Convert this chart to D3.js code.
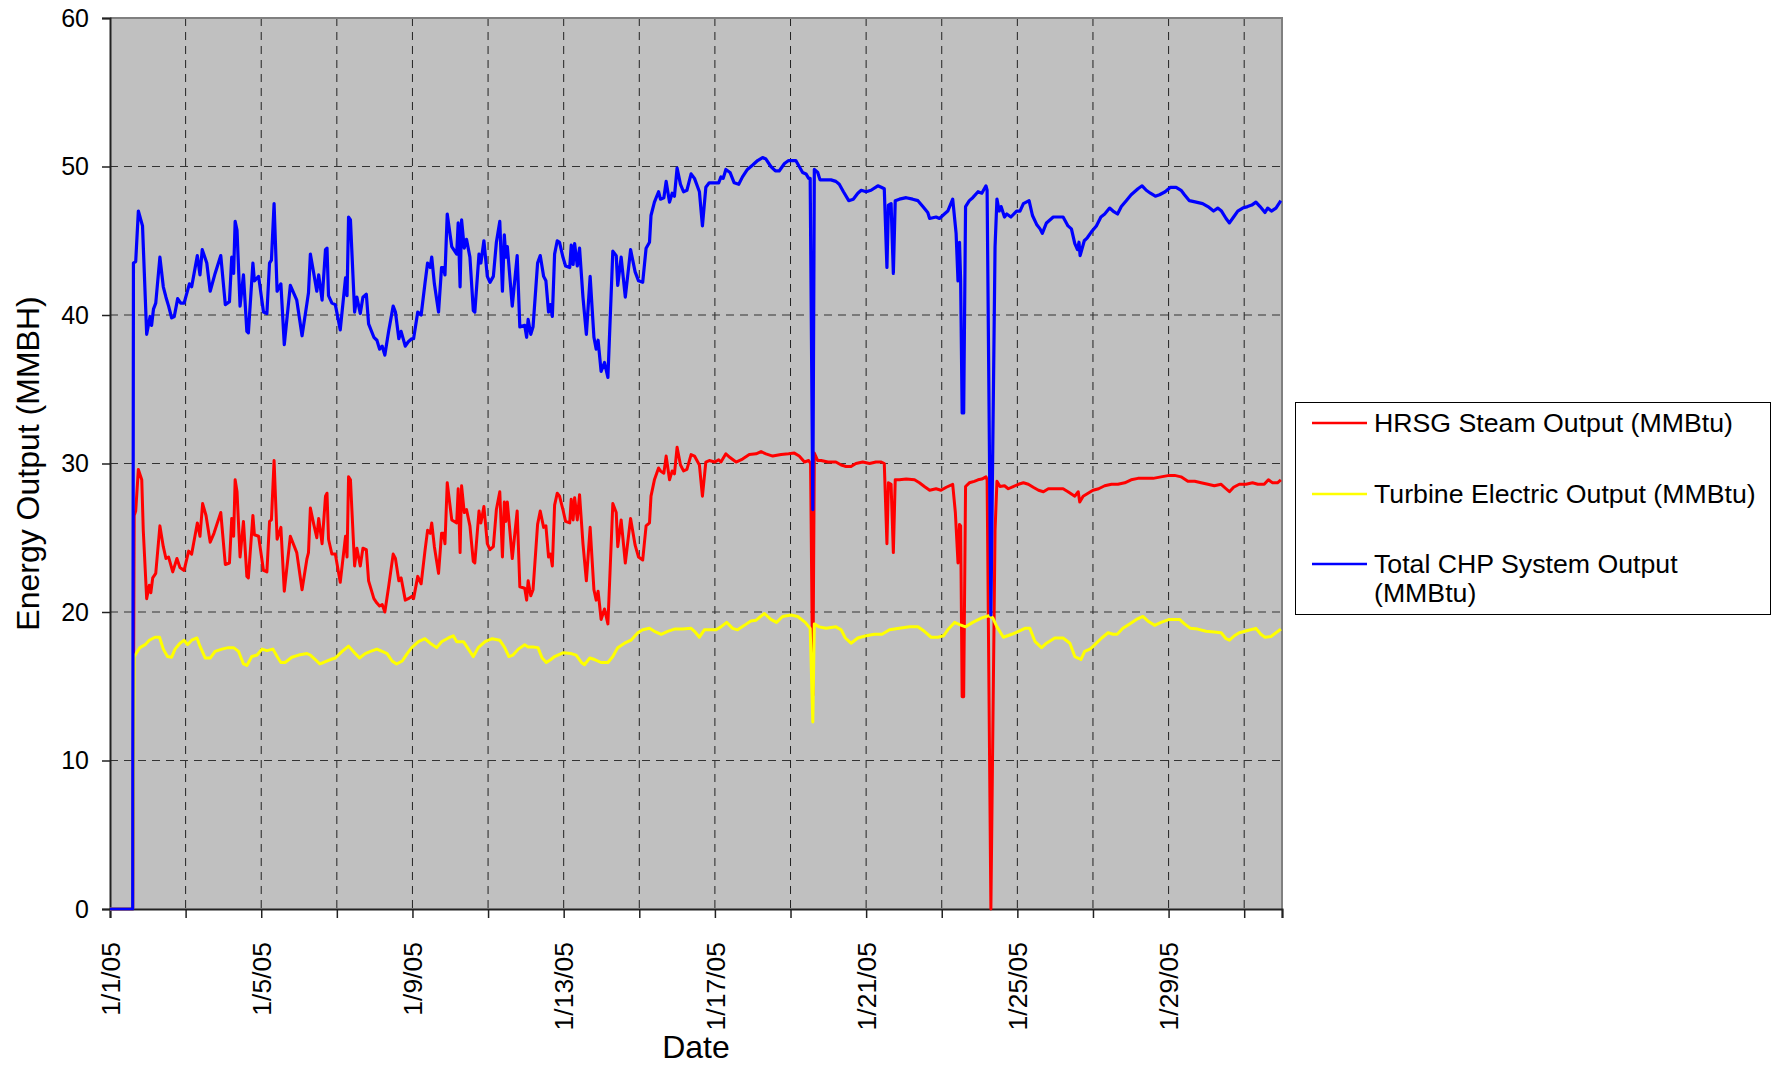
<!DOCTYPE html>
<html>
<head>
<meta charset="utf-8">
<script src="https://cdn.jsdelivr.net/npm/d3@7"></script>
<style>
  body { margin: 0; background: #ffffff; }
  svg { display: block; font-family: "Liberation Sans", Arial, sans-serif; }
</style>
</head>
<body>
<div id="chart-container"></div>
<script>
// Series data: [days since 1/1/05 00:00, value]
const hrsgSteam = [
  [0,0],[0.6,0],[0.64,26.5],[0.68,26.8],[0.75,29.6],[0.84,28.9],[0.88,25.5],[0.97,20.9],[1.04,21.8],[1.08,21.3],
  [1.13,22.3],[1.21,22.6],[1.32,25.8],[1.41,24.4],[1.48,23.6],[1.55,23.7],[1.66,22.7],[1.77,23.6],[1.85,23.0],[1.96,22.8],
  [2.08,24.1],[2.16,23.9],[2.31,26.0],[2.38,25.1],[2.45,27.3],[2.54,26.5],[2.65,24.7],[2.75,25.3],[2.93,26.7],[3.05,23.2],
  [3.16,23.3],[3.22,26.3],[3.27,25.1],[3.31,28.9],[3.36,28.1],[3.44,23.7],[3.53,26.1],[3.62,22.4],[3.66,22.3],[3.78,26.5],
  [3.82,25.2],[3.93,25.1],[4.06,22.8],[4.15,22.7],[4.22,26.1],[4.27,26.2],[4.34,30.2],[4.42,24.9],[4.52,25.7],[4.61,21.4],
  [4.77,25.1],[4.94,24.0],[5.08,21.5],[5.21,23.6],[5.25,24.0],[5.30,27.0],[5.39,25.9],[5.47,25.0],[5.52,26.3],[5.61,24.6],
  [5.70,27.8],[5.74,28.0],[5.78,24.9],[5.87,23.9],[5.96,23.9],[6.09,22.0],[6.23,25.1],[6.27,23.7],[6.31,29.1],[6.36,28.9],
  [6.47,23.1],[6.53,24.3],[6.62,23.1],[6.69,24.3],[6.78,24.2],[6.84,22.1],[6.98,20.9],[7.06,20.6],[7.13,20.4],[7.20,20.5],
  [7.27,20.0],[7.37,21.7],[7.49,23.9],[7.55,23.6],[7.64,22.1],[7.70,22.3],[7.81,20.8],[7.89,20.9],[7.98,21.05],[8.03,20.9],
  [8.14,22.4],[8.23,21.9],[8.33,24.1],[8.40,25.5],[8.47,25.3],[8.51,26.0],[8.58,24.4],[8.69,22.6],[8.77,25.3],[8.82,25.3],
  [8.86,24.6],[8.92,28.7],[9.04,26.2],[9.17,26.0],[9.21,28.3],[9.26,24.0],[9.30,28.5],[9.37,26.7],[9.43,26.9],[9.52,25.8],
  [9.61,23.4],[9.65,23.3],[9.76,26.8],[9.81,26.0],[9.89,27.1],[9.98,24.6],[10.05,24.2],[10.14,24.4],[10.22,26.9],[10.31,28.1],
  [10.38,23.7],[10.43,27.4],[10.47,26.1],[10.51,27.4],[10.64,23.6],[10.77,26.8],[10.84,21.7],[10.97,21.6],[11.02,20.8],[11.06,22.1],
  [11.13,21.1],[11.19,21.5],[11.31,25.9],[11.38,26.8],[11.47,25.7],[11.53,25.8],[11.60,23.7],[11.65,23.9],[11.70,23.1],[11.76,27.2],
  [11.83,28.0],[11.89,27.8],[11.98,26.9],[12.05,26.1],[12.16,26.0],[12.20,27.6],[12.25,26.2],[12.29,27.7],[12.36,26.2],[12.42,27.9],
  [12.51,24.6],[12.60,22.1],[12.70,25.7],[12.80,21.5],[12.86,20.8],[12.91,21.4],[12.99,19.5],[13.08,20.2],[13.17,19.2],[13.30,27.3],
  [13.39,26.7],[13.43,24.4],[13.52,26.2],[13.63,23.3],[13.77,26.3],[13.89,24.5],[13.98,23.7],[14.09,23.5],[14.18,25.8],[14.27,26.0],
  [14.31,27.8],[14.40,28.9],[14.51,29.7],[14.56,29.5],[14.65,29.35],[14.71,30.5],[14.80,28.9],[14.87,29.5],[14.93,29.3],[15.00,31.1],
  [15.09,29.9],[15.17,29.5],[15.26,29.6],[15.37,30.6],[15.46,30.5],[15.59,29.9],[15.67,27.8],[15.76,30.1],[15.85,30.2],[16.0,30.1],
  [16.10,30.25],[16.16,30.1],[16.29,30.65],[16.40,30.4],[16.56,30.1],[16.73,30.3],[16.91,30.6],[17.09,30.65],[17.22,30.8],[17.35,30.65],
  [17.53,30.5],[17.75,30.6],[17.95,30.65],[18.10,30.7],[18.23,30.5],[18.37,30.1],[18.48,30.2],[18.53,30.0],[18.59,14.4],[18.63,30.7],
  [18.72,30.2],[18.81,30.2],[18.99,30.1],[19.20,30.1],[19.34,29.9],[19.47,29.8],[19.60,29.8],[19.73,30.0],[19.91,30.1],[20.09,30.0],
  [20.26,30.1],[20.40,30.1],[20.48,30.0],[20.55,24.6],[20.59,28.7],[20.66,28.6],[20.72,24.0],[20.77,28.9],[20.88,28.9],[21.06,28.95],
  [21.28,28.9],[21.41,28.7],[21.54,28.45],[21.68,28.2],[21.85,28.3],[21.98,28.2],[22.12,28.4],[22.29,28.6],[22.36,26.7],[22.43,23.3],
  [22.47,25.9],[22.50,25.8],[22.54,14.3],[22.58,14.3],[22.63,28.45],[22.73,28.7],[22.86,28.8],[22.96,28.9],[23.06,28.95],[23.17,29.1],
  [23.20,28.9],[23.30,0],[23.41,25.5],[23.46,28.8],[23.54,28.45],[23.66,28.5],[23.76,28.3],[23.89,28.45],[24.03,28.6],[24.16,28.7],
  [24.29,28.6],[24.42,28.4],[24.56,28.2],[24.69,28.1],[24.82,28.3],[24.99,28.3],[25.21,28.3],[25.34,28.1],[25.52,27.8],[25.61,28.1],
  [25.65,27.4],[25.74,27.8],[25.87,28.0],[26.0,28.2],[26.15,28.3],[26.31,28.5],[26.49,28.6],[26.66,28.6],[26.84,28.7],[27.01,28.9],
  [27.19,29.0],[27.37,29.0],[27.59,29.0],[27.80,29.1],[28.02,29.2],[28.16,29.2],[28.33,29.1],[28.51,28.8],[28.69,28.8],[28.86,28.7],
  [29.04,28.6],[29.21,28.5],[29.39,28.6],[29.52,28.3],[29.61,28.1],[29.72,28.4],[29.87,28.6],[30.05,28.6],[30.22,28.7],[30.36,28.6],
  [30.53,28.6],[30.64,28.9],[30.75,28.7],[30.88,28.7],[30.97,28.9]
];

const turbineElectric = [
  [0,0],[0.6,0],[0.64,17.0],[0.79,17.6],[0.93,17.8],[1.04,18.1],[1.19,18.3],[1.31,18.3],[1.41,17.5],[1.52,17.0],
  [1.63,16.95],[1.72,17.5],[1.85,17.9],[1.96,18.1],[2.05,17.8],[2.16,18.1],[2.30,18.25],[2.38,17.7],[2.52,16.9],[2.65,16.9],
  [2.78,17.35],[2.96,17.5],[3.13,17.6],[3.27,17.6],[3.40,17.35],[3.53,16.5],[3.62,16.4],[3.75,17.0],[3.89,17.1],[4.02,17.5],
  [4.15,17.4],[4.31,17.5],[4.42,17.0],[4.52,16.6],[4.63,16.6],[4.81,16.95],[4.99,17.1],[5.21,17.2],[5.30,17.1],[5.43,16.8],
  [5.55,16.5],[5.65,16.6],[5.83,16.8],[5.96,16.9],[6.14,17.35],[6.31,17.7],[6.45,17.3],[6.60,16.9],[6.75,17.2],[6.89,17.35],
  [7.06,17.5],[7.20,17.35],[7.33,17.2],[7.46,16.7],[7.58,16.5],[7.73,16.7],[7.86,17.2],[7.98,17.6],[8.16,18.0],[8.33,18.2],
  [8.47,17.9],[8.64,17.6],[8.77,18.0],[8.95,18.25],[9.08,18.4],[9.17,18.0],[9.35,18.0],[9.48,17.5],[9.61,17.0],[9.74,17.6],
  [9.92,18.0],[10.11,18.2],[10.31,18.1],[10.44,17.6],[10.55,17.0],[10.66,17.1],[10.80,17.5],[10.97,17.8],[11.06,17.65],[11.19,17.65],
  [11.32,17.6],[11.43,16.9],[11.54,16.6],[11.66,16.8],[11.76,17.0],[11.98,17.25],[12.20,17.2],[12.33,17.1],[12.47,16.6],[12.55,16.45],
  [12.69,16.9],[12.82,16.8],[12.99,16.6],[13.17,16.6],[13.30,17.0],[13.43,17.6],[13.61,17.9],[13.78,18.1],[13.96,18.6],[14.09,18.8],
  [14.27,18.9],[14.40,18.7],[14.58,18.5],[14.75,18.7],[14.93,18.85],[15.15,18.85],[15.37,18.9],[15.46,18.7],[15.59,18.3],[15.72,18.8],
  [15.89,18.8],[16.03,18.8],[16.16,19.0],[16.31,19.3],[16.47,18.9],[16.60,18.8],[16.78,19.1],[16.95,19.4],[17.09,19.45],[17.31,19.9],
  [17.48,19.5],[17.63,19.3],[17.79,19.7],[18.01,19.8],[18.19,19.7],[18.39,19.3],[18.52,18.9],[18.59,12.6],[18.63,19.2],[18.76,19.0],
  [18.94,18.9],[19.20,19.0],[19.34,18.8],[19.45,18.25],[19.60,17.9],[19.78,18.25],[20.0,18.4],[20.22,18.5],[20.42,18.5],[20.62,18.8],
  [20.88,18.9],[21.15,19.0],[21.37,19.0],[21.54,18.7],[21.72,18.3],[21.90,18.3],[22.05,18.4],[22.16,18.8],[22.34,19.3],[22.47,19.15],
  [22.63,19.0],[22.82,19.3],[22.98,19.5],[23.06,19.6],[23.24,19.75],[23.35,19.6],[23.46,19.0],[23.63,18.3],[23.85,18.5],[24.03,18.7],
  [24.20,18.9],[24.33,18.9],[24.47,18.0],[24.64,17.6],[24.77,17.9],[24.99,18.25],[25.21,18.25],[25.39,17.9],[25.52,17.0],[25.68,16.8],
  [25.78,17.35],[25.92,17.5],[26.05,17.8],[26.23,18.25],[26.40,18.6],[26.53,18.5],[26.64,18.5],[26.79,18.9],[26.97,19.2],[27.15,19.5],
  [27.32,19.7],[27.45,19.4],[27.63,19.1],[27.80,19.3],[28.02,19.5],[28.29,19.5],[28.42,19.2],[28.58,18.9],[28.77,18.85],[28.99,18.7],
  [29.21,18.65],[29.39,18.6],[29.52,18.2],[29.61,18.1],[29.74,18.4],[29.87,18.6],[30.09,18.75],[30.31,18.9],[30.44,18.5],[30.55,18.3],
  [30.71,18.35],[30.84,18.6],[30.97,18.85]
];

const totalChp = [
  [0,0],[0.6,0],[0.62,43.5],[0.68,43.6],[0.75,47.0],[0.86,46.0],[0.97,38.7],[1.06,39.9],[1.10,39.3],[1.15,40.4],
  [1.21,40.8],[1.32,43.9],[1.41,41.9],[1.48,41.2],[1.55,40.6],[1.63,39.8],[1.70,39.9],[1.79,41.1],[1.87,40.8],[1.96,40.8],
  [2.10,42.1],[2.16,41.9],[2.31,44.0],[2.38,42.7],[2.44,44.4],[2.56,43.5],[2.65,41.6],[2.78,42.8],[2.93,44.0],[3.05,40.7],
  [3.16,40.9],[3.22,43.9],[3.27,42.8],[3.31,46.3],[3.36,45.7],[3.44,40.6],[3.53,42.7],[3.62,38.9],[3.66,38.8],[3.78,43.5],
  [3.82,42.3],[3.93,42.6],[4.06,40.2],[4.15,40.1],[4.22,43.5],[4.27,43.7],[4.34,47.5],[4.42,41.6],[4.52,42.1],[4.61,38.0],
  [4.77,42.0],[4.94,41.0],[5.08,38.6],[5.21,40.8],[5.25,41.5],[5.30,44.1],[5.39,42.8],[5.47,41.6],[5.52,42.7],[5.61,41.0],
  [5.70,44.4],[5.74,44.5],[5.78,41.3],[5.87,40.8],[5.96,40.7],[6.09,39.0],[6.23,42.5],[6.27,41.3],[6.31,46.6],[6.36,46.4],
  [6.47,40.2],[6.53,41.2],[6.62,40.1],[6.69,41.2],[6.78,41.4],[6.84,39.4],[6.98,38.5],[7.06,38.3],[7.13,37.7],[7.20,37.9],
  [7.27,37.3],[7.37,38.9],[7.49,40.6],[7.55,40.2],[7.64,38.4],[7.70,38.9],[7.81,37.9],[7.89,38.2],[7.98,38.4],[8.03,38.4],
  [8.14,40.2],[8.23,40.0],[8.33,42.1],[8.40,43.5],[8.47,43.2],[8.51,43.9],[8.58,42.1],[8.69,40.2],[8.77,43.2],[8.82,43.2],
  [8.86,42.7],[8.92,46.8],[9.04,44.6],[9.17,44.1],[9.21,46.2],[9.26,41.9],[9.30,46.4],[9.37,44.5],[9.43,45.1],[9.52,43.9],
  [9.61,40.3],[9.65,40.2],[9.76,44.1],[9.81,43.5],[9.89,45.0],[9.98,42.6],[10.05,42.2],[10.14,42.6],[10.22,44.9],[10.31,46.3],
  [10.38,41.6],[10.43,45.4],[10.47,43.9],[10.51,44.6],[10.64,40.6],[10.77,44.0],[10.84,39.2],[10.97,39.3],[11.02,38.5],[11.06,39.7],
  [11.13,38.7],[11.19,39.2],[11.31,43.5],[11.38,44.0],[11.47,42.6],[11.53,42.3],[11.60,40.2],[11.65,40.7],[11.70,39.9],[11.76,44.1],
  [11.83,45.0],[11.89,44.9],[11.98,43.9],[12.05,43.3],[12.16,43.2],[12.20,44.7],[12.25,43.4],[12.29,44.8],[12.36,43.3],[12.42,44.5],
  [12.51,41.2],[12.60,38.7],[12.70,42.6],[12.80,38.5],[12.86,37.7],[12.91,38.3],[12.99,36.2],[13.08,36.8],[13.17,35.8],[13.30,44.3],
  [13.39,44.0],[13.43,42.0],[13.52,43.9],[13.63,41.2],[13.77,44.4],[13.89,42.9],[13.98,42.3],[14.09,42.2],[14.18,44.5],[14.27,44.9],
  [14.31,46.7],[14.40,47.6],[14.51,48.3],[14.56,47.8],[14.65,47.9],[14.71,49.0],[14.80,47.6],[14.87,48.2],[14.93,48.0],[15.00,49.9],
  [15.09,48.8],[15.17,48.3],[15.26,48.4],[15.37,49.5],[15.46,49.2],[15.59,48.3],[15.67,46.0],[15.76,48.6],[15.85,48.9],[16.0,48.9],
  [16.10,48.9],[16.16,49.3],[16.22,49.2],[16.29,49.8],[16.40,49.6],[16.51,48.9],[16.63,48.8],[16.73,49.3],[16.86,49.8],[17.0,50.1],
  [17.13,50.4],[17.26,50.6],[17.35,50.5],[17.48,50.0],[17.60,49.7],[17.70,49.7],[17.84,50.2],[17.95,50.4],[18.01,50.4],[18.14,50.4],
  [18.23,50.0],[18.32,49.6],[18.41,49.5],[18.48,49.2],[18.52,49.2],[18.59,26.9],[18.63,49.8],[18.72,49.6],[18.78,49.1],[18.94,49.1],
  [19.07,49.1],[19.20,49.0],[19.29,48.8],[19.40,48.3],[19.54,47.7],[19.66,47.8],[19.78,48.2],[19.87,48.4],[20.0,48.3],[20.13,48.4],
  [20.31,48.7],[20.40,48.6],[20.48,48.5],[20.55,43.2],[20.59,47.4],[20.66,47.5],[20.72,42.8],[20.77,47.7],[20.88,47.8],[21.06,47.9],
  [21.23,47.8],[21.37,47.7],[21.50,47.3],[21.63,46.9],[21.68,46.5],[21.85,46.6],[21.94,46.5],[22.07,46.8],[22.16,47.0],[22.29,47.8],
  [22.38,45.5],[22.43,42.3],[22.47,44.9],[22.50,42.3],[22.54,33.4],[22.58,33.4],[22.63,47.3],[22.73,47.7],[22.82,47.9],[22.96,48.3],
  [23.06,48.2],[23.17,48.7],[23.20,48.4],[23.30,19.8],[23.41,44.6],[23.46,47.8],[23.52,47.0],[23.57,47.3],[23.66,46.6],[23.72,46.8],
  [23.83,46.6],[23.98,47.0],[24.07,47.0],[24.16,47.5],[24.31,47.7],[24.40,46.7],[24.51,46.1],[24.60,45.8],[24.66,45.5],[24.77,46.2],
  [24.95,46.6],[25.21,46.6],[25.34,46.0],[25.43,45.8],[25.52,44.8],[25.59,44.4],[25.63,44.9],[25.66,44.0],[25.77,45.0],[25.85,45.2],
  [25.96,45.6],[26.09,46.0],[26.21,46.6],[26.31,46.8],[26.44,47.2],[26.53,47.0],[26.65,46.8],[26.75,47.3],[26.88,47.7],[27.01,48.1],
  [27.19,48.5],[27.30,48.7],[27.41,48.4],[27.52,48.2],[27.65,48.0],[27.76,48.1],[27.91,48.3],[28.05,48.6],[28.20,48.6],[28.33,48.4],
  [28.42,48.1],[28.55,47.7],[28.73,47.6],[28.90,47.5],[29.04,47.3],[29.19,47.0],[29.30,47.2],[29.40,47.0],[29.52,46.5],[29.61,46.2],
  [29.72,46.6],[29.83,47.0],[29.96,47.2],[30.09,47.3],[30.20,47.4],[30.31,47.6],[30.42,47.3],[30.55,46.9],[30.62,47.2],[30.72,47.0],
  [30.84,47.2],[30.97,47.7]
];

const seriesNames = [
  "HRSG Steam Output (MMBtu)",
  "Turbine Electric Output (MMBtu)",
  "Total CHP System Output (MMBtu)"
];
const seriesColors = ["#ff0000", "#ffff00", "#0000ff"];
const yTicks = [0, 10, 20, 30, 40, 50, 60];
const startDate = new Date(2005, 0, 1);
const endDate = new Date(2005, 1, 1);

const drawChart = () => {
    const width = 1776;
    const height = 1066;

    // plot area, in page pixels
    const plot = { left: 110, right: 1282, top: 18, bottom: 909 };

    const svg = d3.select('#chart-container')
        .append('svg')
        .attr('width', width)
        .attr('height', height);

    const toDate = d => new Date(startDate.getTime() + d * 864e5);

    const x = d3.scaleTime()
        .domain([startDate, endDate])
        .range([plot.left, plot.right]);

    const y = d3.scaleLinear()
        .domain([0, 60])
        .range([plot.bottom, plot.top]);

    // grey plot background
    svg.append('rect')
        .attr('x', plot.left)
        .attr('y', plot.top)
        .attr('width', plot.right - plot.left)
        .attr('height', plot.bottom - plot.top)
        .attr('fill', '#c0c0c0');

    const dayTicks = d3.timeDay.every(2).range(startDate, new Date(2005, 1, 1, 1));

    // dashed grid lines
    svg.append('g')
        .selectAll('line')
        .data(dayTicks.filter(t => t > startDate && t < endDate))
        .join('line')
        .attr('x1', d => x(d)).attr('x2', d => x(d))
        .attr('y1', plot.top).attr('y2', plot.bottom)
        .attr('stroke', '#222')
        .attr('stroke-width', 1)
        .attr('stroke-dasharray', '8,6');

    svg.append('g')
        .selectAll('line')
        .data(yTicks.filter(v => v > 0 && v < 60))
        .join('line')
        .attr('x1', plot.left).attr('x2', plot.right)
        .attr('y1', d => y(d)).attr('y2', d => y(d))
        .attr('stroke', '#333')
        .attr('stroke-width', 1)
        .attr('stroke-dasharray', '8,6');

    // top and right border of the plot
    svg.append('path')
        .attr('d', `M${plot.left},${plot.top}H${plot.right}V${plot.bottom}`)
        .attr('fill', 'none')
        .attr('stroke', '#808080')
        .attr('stroke-width', 2);

    // y axis
    const yAxis = d3.axisLeft(y)
        .tickValues(yTicks)
        .tickSize(8)
        .tickPadding(13)
        .tickFormat(d3.format('d'));

    svg.append('g')
        .attr('transform', `translate(${plot.left},0)`)
        .call(yAxis)
        .call(g => g.select('.domain').attr('stroke', '#222').attr('stroke-width', 2))
        .call(g => g.selectAll('.tick line').attr('stroke', '#222').attr('stroke-width', 1.5))
        .call(g => g.selectAll('text')
            .attr('font-size', 25)
            .attr('font-family', '"Liberation Sans", Arial, sans-serif')
            .attr('fill', '#000'));

    // x axis: a tick every 2 days, a label every 4 days
    const fmt = d3.timeFormat('%-m/%-d/%y');
    const xAxis = d3.axisBottom(x)
        .tickValues(dayTicks)
        .tickSize(9)
        .tickFormat(d => ((d.getDate() - 1) % 4 === 0 && d < endDate) ? fmt(d) : '');

    svg.append('g')
        .attr('transform', `translate(0,${plot.bottom})`)
        .call(xAxis)
        .call(g => g.select('.domain').attr('stroke', '#222').attr('stroke-width', 2))
        .call(g => g.selectAll('.tick line').attr('stroke', '#222').attr('stroke-width', 1.5))
        .call(g => g.selectAll('text')
            .attr('font-size', 26.5)
            .attr('font-family', '"Liberation Sans", Arial, sans-serif')
            .attr('fill', '#000')
            .attr('text-anchor', 'end')
            .attr('transform', 'rotate(-90)')
            .attr('x', -33)
            .attr('y', 0)
            .attr('dy', '0.35em'));

    // clip the lines to the plot area
    svg.append('clipPath')
        .attr('id', 'plot-clip')
        .append('rect')
        .attr('x', plot.left)
        .attr('y', plot.top - 2)
        .attr('width', plot.right - plot.left)
        .attr('height', plot.bottom - plot.top + 4);

    const line = d3.line()
        .x(d => x(toDate(d[0])))
        .y(d => y(d[1]));

    const allSeries = [hrsgSteam, turbineElectric, totalChp];
    const widths = [3, 3, 3.2];

    svg.append('g')
        .attr('clip-path', 'url(#plot-clip)')
        .selectAll('path')
        .data(allSeries)
        .join('path')
        .attr('d', line)
        .attr('fill', 'none')
        .attr('stroke', (d, i) => seriesColors[i])
        .attr('stroke-width', (d, i) => widths[i])
        .attr('stroke-linejoin', 'round');

    // axis titles
    svg.append('text')
        .attr('transform', `translate(39,${(plot.top + plot.bottom) / 2}) rotate(-90)`)
        .attr('text-anchor', 'middle')
        .attr('font-size', 32)
        .text('Energy Output (MMBH)');

    svg.append('text')
        .attr('x', (plot.left + plot.right) / 2)
        .attr('y', 1058)
        .attr('text-anchor', 'middle')
        .attr('font-size', 32)
        .text('Date');

    // legend
    const legend = svg.append('g');
    legend.append('rect')
        .attr('x', 1295.5).attr('y', 402.5)
        .attr('width', 475).attr('height', 212)
        .attr('fill', '#fff')
        .attr('stroke', '#000')
        .attr('stroke-width', 1);

    const rowY = [423, 494, 564];
    const item = legend.selectAll('g.item')
        .data(seriesNames)
        .join('g')
        .attr('class', 'item');

    item.append('line')
        .attr('x1', 1312).attr('x2', 1367)
        .attr('y1', (d, i) => rowY[i]).attr('y2', (d, i) => rowY[i])
        .attr('stroke', (d, i) => seriesColors[i])
        .attr('stroke-width', 2.5);

    item.append('text')
        .attr('x', 1374)
        .attr('y', (d, i) => rowY[i] + 9)
        .attr('font-size', 26.7)
        .each(function (d, i) {
            // the last entry wraps onto two lines
            const parts = i === 2 ? ['Total CHP System Output', '(MMBtu)'] : [d];
            d3.select(this).selectAll('tspan')
                .data(parts)
                .join('tspan')
                .attr('x', 1374)
                .attr('dy', (p, j) => j === 0 ? 0 : 29)
                .text(p => p);
        });
};

drawChart();
</script>
</body>
</html>
